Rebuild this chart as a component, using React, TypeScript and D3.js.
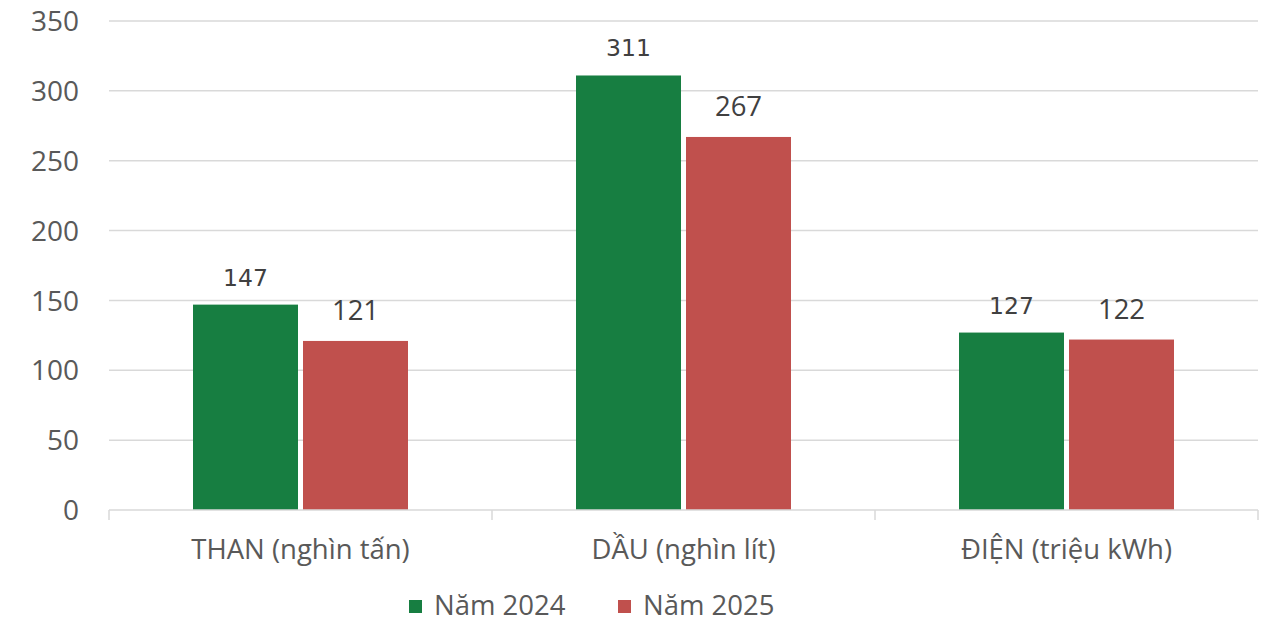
import React from "react";
import * as d3 from "d3";

const categories = ["THAN (nghìn tấn)", "DẦU (nghìn lít)", "ĐIỆN (triệu kWh)"];
const series2024 = [147, 311, 127];
const series2025 = [121, 267, 122];
const seriesNames = ["Năm 2024", "Năm 2025"];
const yTicks = [0, 50, 100, 150, 200, 250, 300, 350];

const W = 1271;
const H = 625;
const left = 109;
const right = 1258;
const top = 21;
const bottom = 510;
const GREEN = "#177E41";
const RED = "#C0504D";
const FONT = "'Open Sans', sans-serif";

export default function App() {
  const x = d3.scaleBand<string>().domain(categories).range([left, right]).paddingInner(0).paddingOuter(0);
  const y = d3.scaleLinear().domain([0, 350]).range([bottom, top]);
  const bw = x.bandwidth();
  const barW = 105;
  const gap = 5;
  const off = (bw - (2 * barW + gap)) / 2;
  const boundaries = [...categories.map((c) => x(c) as number), right];

  return (
    <svg width={W} height={H} style={{ position: "absolute", left: 0, top: 0, background: "#fff" }}>
      {yTicks.map((t) => (
        <g key={t}>
          {t !== 0 && (
            <line x1={left} x2={right} y1={y(t)} y2={y(t)} stroke="#d9d9d9" strokeWidth={1.5} />
          )}
          <text x={79} y={y(t)} dy="0.36em" textAnchor="end" fontFamily={FONT} fontSize={28} fill="#595959">
            {t}
          </text>
        </g>
      ))}
      {categories.map((c, i) => {
        const x0 = (x(c) as number) + off;
        const x1 = x0 + barW + gap;
        return (
          <g key={c}>
            <rect x={x0} y={y(series2024[i])} width={barW} height={bottom - y(series2024[i])} fill={GREEN} />
            <rect x={x1} y={y(series2025[i])} width={barW} height={bottom - y(series2025[i])} fill={RED} />
            <text x={x0 + barW / 2} y={y(series2024[i]) - 19} textAnchor="middle" fontFamily="'DejaVu Sans', sans-serif" fontSize={23.5} fill="#404040">
              {series2024[i]}
            </text>
            <text x={x1 + barW / 2} y={y(series2025[i]) - 21} textAnchor="middle" fontFamily={FONT} fontSize={27.5} fill="#404040">
              {series2025[i]}
            </text>
            <text x={(x(c) as number) + bw / 2} y={559} textAnchor="middle" fontFamily={FONT} fontSize={27.5} fill="#595959">
              {c}
            </text>
          </g>
        );
      })}
      <line x1={left} x2={right} y1={bottom} y2={bottom} stroke="#d9d9d9" strokeWidth={1.5} />
      {boundaries.map((b, i) => (
        <line key={i} x1={b} x2={b} y1={bottom} y2={bottom + 10} stroke="#d9d9d9" strokeWidth={1.5} />
      ))}
      {seriesNames.map((n, i) => {
        const lx = i === 0 ? 409 : 618;
        return (
          <g key={n}>
            <rect x={lx} y={600} width={13} height={13} fill={i === 0 ? GREEN : RED} />
            <text x={lx + 25} y={615} fontFamily={FONT} fontSize={27.5} fill="#595959">
              {n}
            </text>
          </g>
        );
      })}
    </svg>
  );
}
